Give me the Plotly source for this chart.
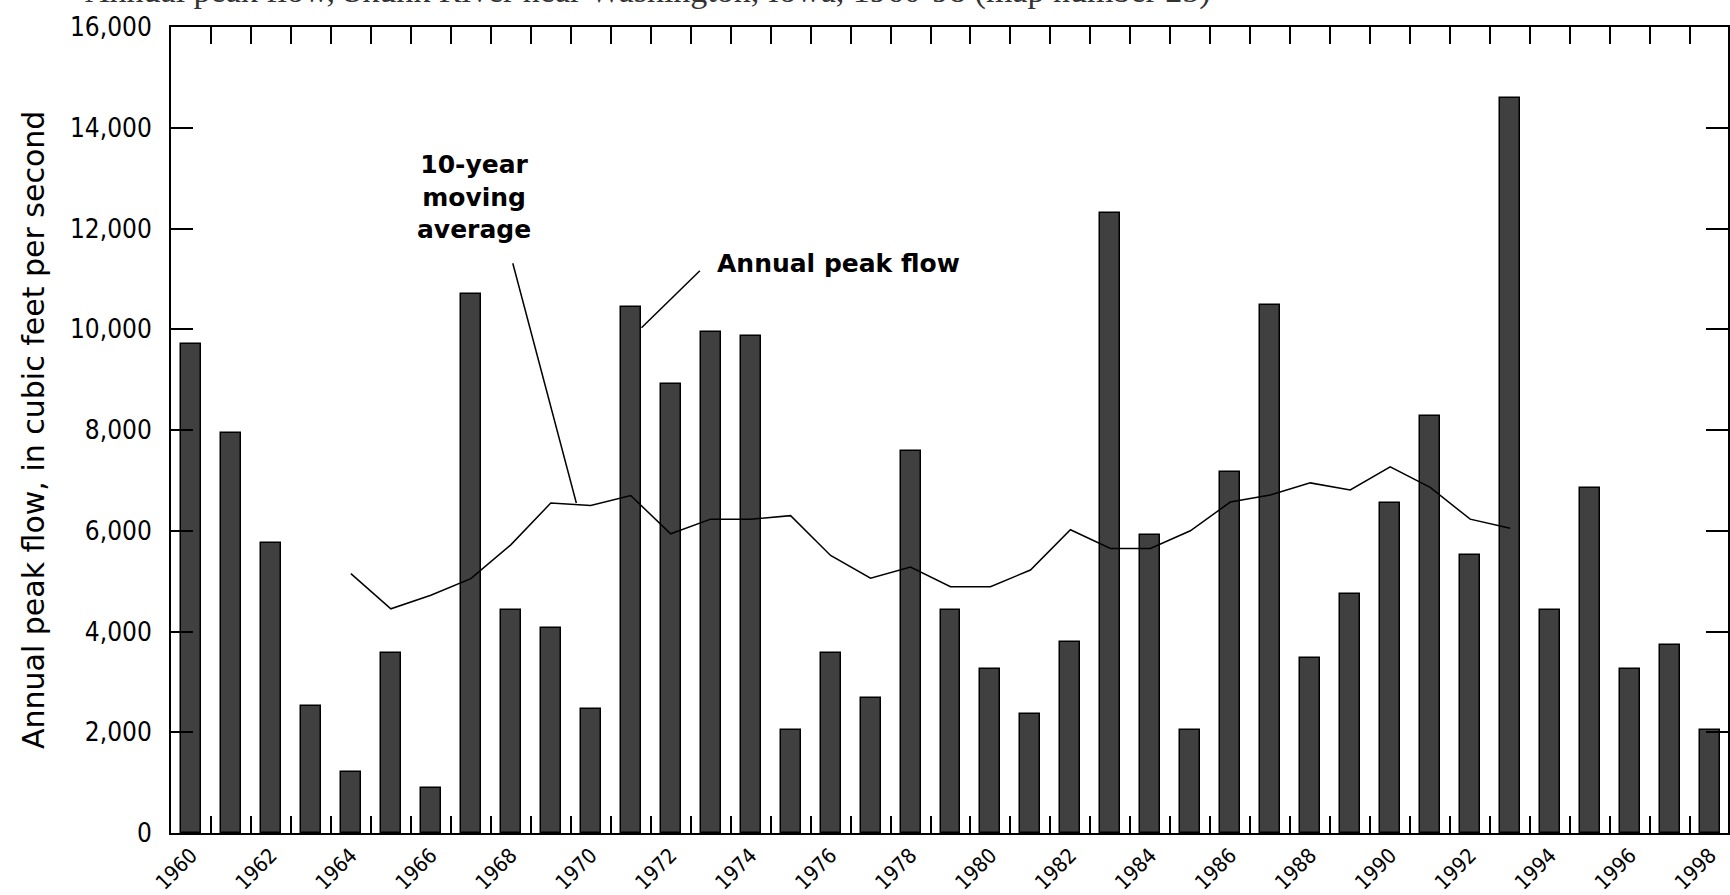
import plotly.graph_objects as go

years = list(range(1960, 1999))
peak_flow = [9700, 7950, 5750, 2520, 1220, 3580, 900, 10700, 4430, 4060,
             2470, 10440, 8910, 9950, 9860, 2050, 3580, 2680, 7580, 4430,
             3260, 2360, 3790, 12300, 5910, 2050, 7170, 10490, 3480, 4750,
             6550, 8280, 5520, 14600, 4430, 6850, 3260, 3740, 2050]
ma_years = list(range(1964, 1994))
moving_avg = [5150, 4450, 4720, 5050, 5720, 6550, 6500, 6700, 5940, 6230,
              6230, 6300, 5510, 5060, 5280, 4890, 4890, 5220, 6020, 5650,
              5650, 6000, 6570, 6710, 6950, 6810, 7270, 6860, 6230, 6050]
label_years = list(range(1960, 1999, 2))
y_ticks = list(range(0, 16001, 2000))
boundaries = [y + 0.5 for y in years[:-1]]

title_text = "Annual peak flow, Skunk River near Washington, Iowa, 1960-98 (map number 25)"
y_title = "Annual peak flow, in cubic feet per second"
ma_label = "10-year<br>moving<br>average"
peak_label = "Annual peak flow"

XR = [1959.5, 1998.45]
TICK_FONT = "DejaVu Sans Condensed, Liberation Sans Narrow, Liberation Sans, sans-serif"

fig = go.Figure()
fig.add_trace(go.Bar(x=years, y=peak_flow, width=0.5,
                     marker=dict(color="#404040", line=dict(color="black", width=1.5)),
                     xaxis="x", yaxis="y", showlegend=False))
fig.add_trace(go.Scatter(x=ma_years, y=moving_avg, mode="lines",
                         line=dict(color="black", width=1.5),
                         xaxis="x2", yaxis="y", showlegend=False))

fig.update_layout(
    width=1730, height=895,
    margin=dict(l=171, r=2, t=27, b=62),
    paper_bgcolor="white", plot_bgcolor="white",
    bargap=0,
    xaxis=dict(range=XR, tickmode="array", tickvals=label_years,
               ticktext=[str(y) for y in label_years], automargin=False,
               ticks="", tickangle=-45, showgrid=False, zeroline=False,
               showline=True, linecolor="black", linewidth=2, mirror=True,
               tickfont=dict(family=TICK_FONT, size=21, color="black")),
    xaxis2=dict(range=XR, matches="x", overlaying="x", anchor="y", automargin=False,
                tickmode="array", tickvals=boundaries, showticklabels=False,
                ticks="inside", ticklen=17, tickwidth=2, tickcolor="black",
                mirror="ticks", showline=True, linecolor="black", linewidth=2,
                showgrid=False, zeroline=False),
    yaxis=dict(range=[0, 16000], tickmode="array", tickvals=y_ticks,
               ticktext=[f"{v:,}" for v in y_ticks], automargin=False,
               ticks="inside", ticklen=22, tickwidth=2, tickcolor="black",
               mirror="ticks", showline=True, linecolor="black", linewidth=2,
               showgrid=False, zeroline=False, ticklabelstandoff=12,
               tickfont=dict(family=TICK_FONT, size=26, color="black")),
)

annotations = [
    dict(text=y_title, xref="paper", yref="paper", x=-0.0886, y=0.5,
         xanchor="center", yanchor="middle", textangle=-90, showarrow=False,
         font=dict(family="DejaVu Sans", size=30, color="black")),
    dict(text=ma_label, xref="x", yref="y", x=1967.08, y=12617,
         xanchor="center", yanchor="middle", showarrow=False, align="center",
         font=dict(family="DejaVu Sans", size=25, color="black", weight="bold")),
    dict(text=peak_label, xref="x", yref="y", x=1973.1, y=11300,
         xanchor="left", yanchor="middle", showarrow=False,
         font=dict(family="DejaVu Sans", size=25, color="black", weight="bold")),
    dict(text=title_text, xref="paper", yref="paper", x=-0.0565, y=1.0,
         xanchor="left", yanchor="bottom", yshift=15, showarrow=False,
         font=dict(family="Liberation Serif", size=34, color="#333333")),
]
fig.update_layout(annotations=annotations)

leaders = [((1968.05, 11310), (1969.64, 6550)),
           ((1972.73, 11160), (1971.27, 10030))]
for (x0, y0), (x1, y1) in leaders:
    fig.add_shape(type="line", xref="x", yref="y", x0=x0, y0=y0, x1=x1, y1=y1,
                  line=dict(color="black", width=1.5))

fig.write_html("out.html", config={"displayModeBar": False},
               post_script="document.body.style.margin='0';document.body.style.overflow='hidden';")
